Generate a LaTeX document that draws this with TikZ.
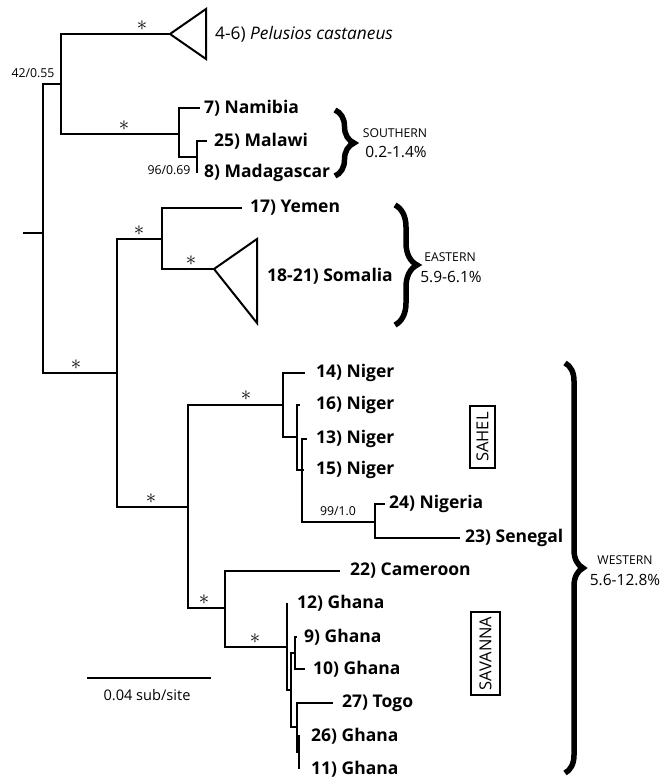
\documentclass[tikz,border=0pt]{standalone}
\usepackage{fontspec}
\setmainfont{Open Sans}
\usetikzlibrary{decorations.pathreplacing}

\begin{document}
\begin{tikzpicture}[x=1pt, y=-1pt,
        branch/.style={line width=2pt},
        clade/.style={line width=2pt, line join=miter},
        tip/.style={anchor=west, inner sep=0pt, font=\fontsize{17.5}{17.5}\selectfont\bfseries},
        taxon/.style={anchor=west, inner sep=0pt, font=\fontsize{17.3}{17.3}\selectfont},
        support/.style={inner sep=0pt, font=\fontsize{12.3}{12.3}\selectfont},
        star/.style={inner sep=0pt, font=\fontsize{20}{20}\selectfont},
        group/.style={decorate, decoration={brace, amplitude=#1}, line width=5.5pt},
        grouplabel/.style={inner sep=0pt, font=\fontsize{12.2}{12.2}\selectfont},
        divergence/.style={inner sep=0pt, font=\fontsize{15.5}{15.5}\selectfont},
        region/.style={draw, line width=1.4pt, rotate=90, inner sep=0pt, font=\fontsize{16.5}{16.5}\selectfont}
    ]
        \useasboundingbox (0,0) rectangle (668,778);

        % Internal nodes of the tree
        \coordinate (base) at (23,233);
        \coordinate (r)  at (43,233);
        \coordinate (a1) at (61,84);
        \coordinate (s1) at (179,134);
        \coordinate (s2) at (197,157);
        \coordinate (e1) at (117,373);
        \coordinate (ea) at (162,239);
        \coordinate (w1) at (188,507);
        \coordinate (n1) at (283,405);
        \coordinate (n2) at (297,437);
        \coordinate (n3) at (302,470);
        \coordinate (ng) at (375,522);
        \coordinate (g1) at (225,608);
        \coordinate (g2) at (287,647);
        \coordinate (g3) at (291,690);
        \coordinate (g4) at (295,653);
        \coordinate (g5) at (297,727);
        \coordinate (g6) at (299,752);

        % Branch tips
        \coordinate (pel) at (170,34);
        \coordinate (som) at (214,269);
        \coordinate (t7)  at (200,108);
        \coordinate (t25) at (207,141);
        \coordinate (t8)  at (197,173);
        \coordinate (t17) at (242,208);
        \coordinate (t14) at (305,373);
        \coordinate (t16) at (300,405);
        \coordinate (t13) at (307,439);
        \coordinate (t15) at (304,470);
        \coordinate (t24) at (385,504);
        \coordinate (t23) at (460,538);
        \coordinate (t22) at (340,571);
        \coordinate (t12) at (287,603);
        \coordinate (t9)  at (297,637);
        \coordinate (t10) at (305,669);
        \coordinate (t27) at (333,703);
        \coordinate (t26) at (300,736);
        \coordinate (t11) at (299,769);

        % Branches
        \draw[branch] (base) -- (r);
        \foreach \p/\c in {r/a1, a1/pel, a1/s1, s1/t7, s1/s2, s2/t25, s2/t8,
                           r/e1, e1/ea, ea/t17, ea/som, e1/w1,
                           w1/n1, n1/t14, n1/n2, n2/t16, n2/n3, n3/t13, n3/t15, n3/ng, ng/t24, ng/t23,
                           w1/g1, g1/t22, g1/g2, g2/t12, g2/g3, g3/g4, g4/t9, g4/t10,
                           g3/g5, g5/t27, g5/g6, g6/t26, g6/t11} {
            \draw[branch] (\p) |- (\c);
        }

        % Collapsed clades
        \draw[clade] (pel) -- (206,9) -- (206,59) -- cycle;
        \draw[clade] (som) -- (257,239) -- (257,323) -- cycle;

        % Full support
        \foreach \x/\y [count=\i] in {142/34, 124/134, 139/239, 191/269, 76/373, 151/507, 246/404, 204/608, 255/647} {
            \node[star] (star\i) at (\x,\y-8) {$\ast$};
        }

        % Partial support values
        \node[support] (sup1) at (33,73) {42/0.55};
        \node[support] (sup2) at (169,170) {96/0.69};
        \node[support] (sup3) at (338,511) {99/1.0};

        % Taxa
        \node[taxon] (l4)  at (215,34)  {4-6) \textit{Pelusios castaneus}};
        \node[tip] (l7)  at (204,108) {7) Namibia};
        \node[tip] (l25) at (214,141) {25) Malawi};
        \node[tip] (l8)  at (204,173) {8) Madagascar};
        \node[tip] (l17) at (250,208) {17) Yemen};
        \node[tip] (l18) at (267,276) {18-21) Somalia};
        \node[tip] (l14) at (316,373) {14) Niger};
        \node[tip] (l16) at (316,405) {16) Niger};
        \node[tip] (l13) at (316,439) {13) Niger};
        \node[tip] (l15) at (316,470) {15) Niger};
        \node[tip] (l24) at (389,504) {24) Nigeria};
        \node[tip] (l23) at (465,538) {23) Senegal};
        \node[tip] (l22) at (350,571) {22) Cameroon};
        \node[tip] (l12) at (297,603) {12) Ghana};
        \node[tip] (l9)  at (304,637) {9) Ghana};
        \node[tip] (l10) at (313,669) {10) Ghana};
        \node[tip] (l27) at (342,703) {27) Togo};
        \node[tip] (l26) at (311,736) {26) Ghana};
        \node[tip] (l11) at (311,769) {11) Ghana};

        % Lineage braces
        \draw[group=19pt] (335,110) -- (335,176);
        \draw[group=22pt] (395,205) -- (395,325);
        \draw[group=18pt] (565,363) -- (565,773);
        \node[grouplabel] (south) at (395,133) {SOUTHERN};
        \node[divergence] (southd) at (396,152) {0.2-1.4\%};
        \node[grouplabel] (east) at (450,257) {EASTERN};
        \node[divergence] (eastd) at (451,277) {5.9-6.1\%};
        \node[grouplabel] (west) at (625,560) {WESTERN};
        \node[divergence] (westd) at (625,580) {5.6-12.8\%};

        % Boxed regions
        \node[region, minimum width=62pt, minimum height=25pt] (sahel) at (482.5,437) {SAHEL};
        \node[region, minimum width=83pt, minimum height=29pt] (savanna) at (485.5,653.5) {SAVANNA};

        % Scale bar
        \coordinate (bar0) at (87,678);
        \coordinate (bar1) at (211,678);
        \draw[line width=1.3pt] (bar0) -- (bar1);
        \node[divergence, font=\fontsize{14.6}{14.6}\selectfont] (barl) at (147,695) {0.04 sub/site};
    \end{tikzpicture}
\end{document}
